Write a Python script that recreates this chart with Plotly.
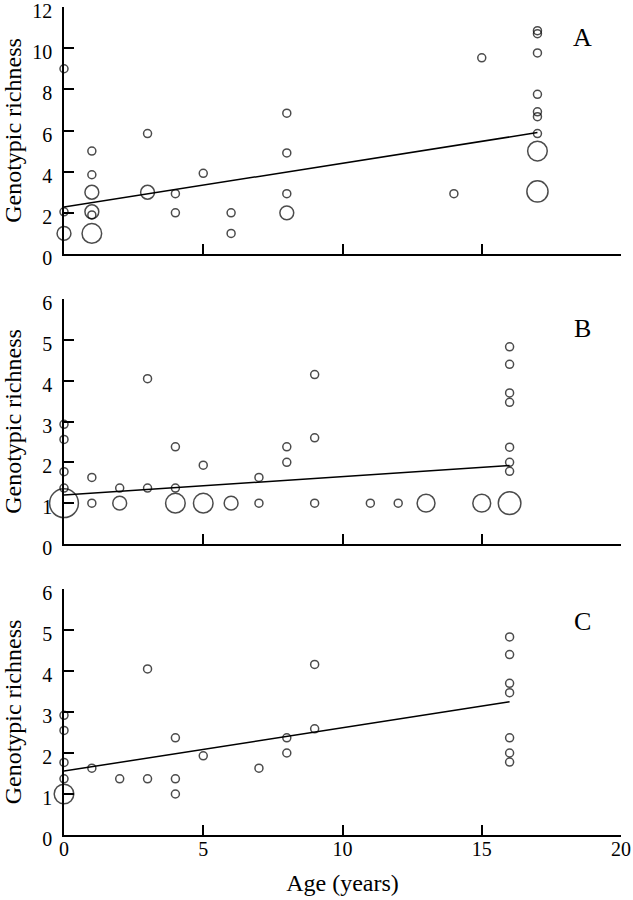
import plotly.graph_objects as go
from plotly.subplots import make_subplots

# ---------------- Data ----------------
# Panel A
a_age = [0, 0, 0, 1, 1, 1, 1, 1, 1, 3, 3, 4, 4, 5, 6, 6, 8, 8, 8, 8, 14, 15,
         17, 17, 17, 17, 17, 17, 17, 17, 17]
a_rich = [9.0, 2.05, 1.0, 5.0, 3.85, 3.0, 2.05, 1.9, 1.0, 5.85, 3.0, 2.93, 2.0, 3.92,
          2.0, 1.0, 6.84, 4.91, 2.93, 2.0, 2.93, 9.53,
          10.85, 10.7, 9.77, 7.76, 6.91, 6.67, 5.85, 5.0, 3.04]
a_n = [1, 1, 3, 1, 1, 3, 3, 1, 6, 1, 3, 1, 1, 1, 1, 1, 1, 1, 1, 3, 1, 1,
       1, 1, 1, 1, 1, 1, 1, 6, 7]
a_fit_x = [0, 17]
a_fit_y = [2.28, 5.9]

# Panel B
b_age = [0, 0, 0, 0, 0, 1, 1, 2, 2, 3, 3, 4, 4, 4, 5, 5, 6, 7, 7, 8, 8, 9, 9, 9,
         11, 12, 13, 15, 16, 16, 16, 16, 16, 16, 16, 16]
b_rich = [2.93, 2.56, 1.77, 1.37, 1.0, 1.63, 1.0, 1.37, 1.0, 4.05, 1.37, 2.38, 1.37, 1.0,
          1.93, 1.0, 1.0, 1.63, 1.0, 2.38, 2.0, 4.15, 2.6, 1.0,
          1.0, 1.0, 1.0, 1.0, 4.83, 4.4, 3.7, 3.47, 2.37, 2.0, 1.78, 1.0]
b_n = [1, 1, 1, 1, 13, 1, 1, 1, 3, 1, 1, 1, 1, 6, 1, 6, 3, 1, 1, 1, 1, 1, 1, 1,
       1, 1, 5, 5, 1, 1, 1, 1, 1, 1, 1, 8]
b_fit_x = [0, 16]
b_fit_y = [1.2, 1.92]

# Panel C
c_age = [0, 0, 0, 0, 0, 1, 2, 3, 3, 4, 4, 4, 5, 7, 8, 8, 9, 9,
         16, 16, 16, 16, 16, 16, 16]
c_rich = [2.92, 2.55, 1.77, 1.37, 1.0, 1.63, 1.37, 4.05, 1.37, 2.37, 1.37, 1.0, 1.93,
          1.63, 2.37, 2.0, 4.16, 2.59,
          4.83, 4.4, 3.7, 3.47, 2.37, 2.0, 1.78]
c_n = [1, 1, 1, 1, 6, 1, 1, 1, 1, 1, 1, 1, 1, 1, 1, 1, 1, 1,
       1, 1, 1, 1, 1, 1, 1]
c_fit_x = [0, 16]
c_fit_y = [1.56, 3.25]

panel_letters = ["A", "B", "C"]
letter_y = [10.5, 5.27, 5.2]
x_ticks = [0, 5, 10, 15, 20]
y_ticks_a = [0, 2, 4, 6, 8, 10, 12]
y_ticks_bc = [0, 1, 2, 3, 4, 5, 6]

# ---------------- Figure ----------------
FONT = "Liberation Serif, Times New Roman, serif"
W, H = 633, 900
ML, MR, MT, MB = 64, 12, 7, 65

fig = make_subplots(rows=3, cols=1)

panels = [
    (a_age, a_rich, a_n, a_fit_x, a_fit_y),
    (b_age, b_rich, b_n, b_fit_x, b_fit_y),
    (c_age, c_rich, c_n, c_fit_x, c_fit_y),
]

for i, (ax_, ry, n, fx, fy) in enumerate(panels, start=1):
    sizes = [8 * (v ** 0.5) for v in n]
    fig.add_trace(go.Scatter(
        x=ax_, y=ry, mode="markers", cliponaxis=False, showlegend=False,
        hoverinfo="skip",
        marker=dict(symbol="circle", size=sizes, color="rgba(0,0,0,0)",
                    line=dict(color="black", width=1.5)),
    ), row=i, col=1)
    fig.add_trace(go.Scatter(
        x=fx, y=fy, mode="lines", cliponaxis=False, showlegend=False,
        hoverinfo="skip",
        line=dict(color="black", width=1.5),
    ), row=i, col=1)

# pixel-based domains
plot_h = H - MT - MB
def dom(top_px, bot_px):
    return [(H - MB - bot_px) / plot_h, (H - MB - top_px) / plot_h]

domains = [dom(7, 254), dom(299, 544), dom(589, 835)]
yranges = [[0, 12], [0, 6], [0, 6]]
yticks = [y_ticks_a, y_ticks_bc, y_ticks_bc]
standoffs = [11, 20, 20]

axis_common = dict(
    showline=True, linecolor="black", linewidth=1.5, showgrid=False, zeroline=False,
    ticks="inside", ticklen=10, tickwidth=1.5, tickcolor="black",
    tickfont=dict(family=FONT, size=20, color="black"),
    ticklabeloverflow="allow",
)

for i in range(3):
    xname = "xaxis" if i == 0 else f"xaxis{i+1}"
    yname = "yaxis" if i == 0 else f"yaxis{i+1}"
    fig.layout[xname].update(
        range=[0, 20], tickvals=x_ticks, showticklabels=(i == 2),
        ticklabelstandoff=-5, **axis_common,
        title=dict(text="Age (years)" if i == 2 else "",
                   font=dict(family=FONT, size=24, color="black"), standoff=15),
    )
    fig.layout[yname].update(
        range=yranges[i], tickvals=yticks[i], domain=domains[i],
        ticklabelstandoff=6, ticklabelshift=4, **axis_common,
        title=dict(text="Genotypic richness",
                   font=dict(family=FONT, size=24, color="black"),
                   standoff=standoffs[i]),
    )
    fig.add_annotation(
        text=panel_letters[i], xref=f"x{i+1 if i else ''}", yref=f"y{i+1 if i else ''}",
        x=18.6, y=letter_y[i],
        showarrow=False, font=dict(family=FONT, size=26, color="black"),
    )

fig.update_layout(
    width=W, height=H, autosize=False,
    margin=dict(l=ML, r=MR, t=MT, b=MB, autoexpand=False),
    plot_bgcolor="white", paper_bgcolor="white",
    font=dict(family=FONT, color="black"),
    hovermode=False,
)

fig.write_html("out.html", config={"displayModeBar": False},
               post_script="document.body.style.margin='0';")
